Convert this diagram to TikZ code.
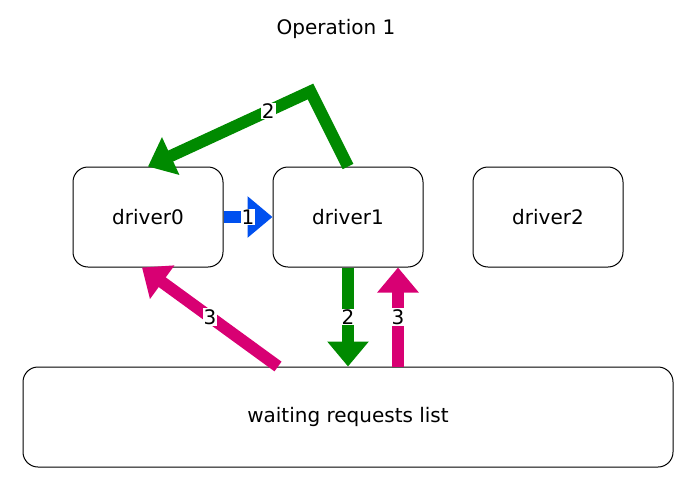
\documentclass[tikz,border=0pt]{standalone}
\usepackage{fontspec}
\setmainfont{DejaVu Sans}
\usetikzlibrary{positioning, arrows.meta}

\definecolor{arrgreen}{HTML}{008A00}
\definecolor{arrpink}{HTML}{D80073}
\definecolor{arrblue}{HTML}{0050EF}

\tikzset{
  box/.style={draw, line width=1pt, rounded corners=15pt, minimum width=150pt, minimum height=100pt, font=\fontsize{20pt}{24pt}\selectfont},
  fatarrow/.style={line width=12pt, line join=miter, -{Triangle[length=25pt, width=40pt]}},
  tag/.style={fill=white, text=black, inner sep=1pt, font=\fontsize{20pt}{24pt}\selectfont}
}

\begin{document}
\begin{tikzpicture}[x=1pt, y=-1pt]

\useasboundingbox (0, 0) rectangle (699, 490);

% Draw the title
\node (title) at (336, 29) {\fontsize{20pt}{24pt}\selectfont Operation 1};

% Draw the drivers
\node[box] (d0) at (148, 217) {driver0};
\node[box] (d1) at (348, 217) {driver1};
\node[box] (d2) at (548, 217) {driver2};

% Draw the list
\node[box, minimum width=650pt] (list) at (348, 417) {waiting requests list};

% Corner of the bent arrow
\coordinate (bend) at (310.5, 91.5);

% Draw the arrows
\draw[fatarrow, arrblue] (d0.east) -- node[tag] {1} (d1.west);
\draw[fatarrow, arrgreen] (d1.north) -- (bend) -- node[tag, pos=0.26] {2} (d0.north);
\draw[fatarrow, arrgreen] (d1.south) -- node[tag] {2} (d1.south |- list.north);
\draw[fatarrow, arrpink] ([xshift=50pt]list.north) -- node[tag] {3} ([xshift=50pt]d1.south);
\draw[fatarrow, arrpink] ([xshift=-70pt]list.north) -- node[tag] {3} ([xshift=-6pt]d0.south);

\end{tikzpicture}
\end{document}
